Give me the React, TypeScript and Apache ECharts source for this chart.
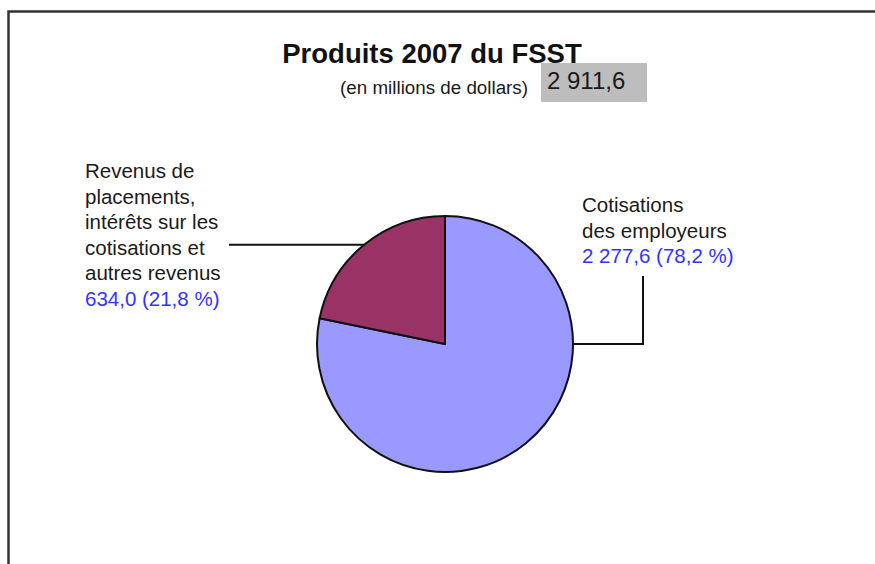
import React, { useEffect, useRef } from "react";
import * as echarts from "echarts";

const categories = [
  "Cotisations\ndes employeurs",
  "Revenus de\nplacements,\nintérêts sur les\ncotisations et\nautres revenus",
];
const values = [2277.6, 634.0];
const colors = ["#9999FF", "#993366"];
const titleText = "Produits 2007 du FSST";
const subtitleText = "(en millions de dollars)";

const FONT = "'Liberation Sans', Arial, Helvetica, sans-serif";

function fr(v: number): string {
  const s = v.toFixed(1);
  const [i, d] = s.split(".");
  return i.replace(/\B(?=(\d{3})+(?!\d))/g, " ") + "," + d;
}

export default function App() {
  const ref = useRef<HTMLDivElement>(null);
  useEffect(() => {
    document.body.style.margin = "0";
    if (!ref.current) return;
    const chart = echarts.init(ref.current, undefined, { renderer: "svg" });
    const total = values.reduce((a, b) => a + b, 0);
    const cx = 445;
    const cy = 344;
    const r = 128;
    const data = categories.map((name, i) => ({
      name,
      value: values[i],
      itemStyle: { color: colors[i] },
    }));
    chart.setOption({
      animation: false,
      backgroundColor: "#ffffff",
      graphic: [
        {
          type: "rect",
          shape: { x: 8.5, y: 11.5, width: 1000, height: 1000 },
          style: { fill: "none", stroke: "#333333", lineWidth: 2.5 },
          silent: true,
        },
        {
          type: "text",
          x: 432,
          y: 53,
          style: {
            text: titleText,
            fontFamily: FONT,
            fontWeight: "bold",
            fontSize: 27.5,
            fill: "#111111",
            align: "center",
            verticalAlign: "middle",
          },
        },
        {
          type: "text",
          x: 528,
          y: 87,
          style: {
            text: subtitleText,
            fontFamily: FONT,
            fontSize: 18.8,
            fill: "#1a1a1a",
            align: "right",
            verticalAlign: "middle",
          },
        },
        {
          type: "rect",
          shape: { x: 541, y: 63, width: 106, height: 39 },
          style: { fill: "#BDBDBD" },
        },
        {
          type: "text",
          x: 547,
          y: 80,
          style: {
            text: fr(total),
            fontFamily: FONT,
            fontSize: 24,
            fill: "#1a1a1a",
            align: "left",
            verticalAlign: "middle",
          },
        },
      ],
      series: [
        {
          type: "pie",
          center: [cx, cy],
          radius: [0, r],
          startAngle: 90,
          clockwise: true,
          data,
          itemStyle: { borderColor: "#111111", borderWidth: 2 },
          emphasis: { disabled: true },
          label: {
            show: true,
            position: "outside",
            formatter: (p: any) => {
              const lines = String(p.name)
                .split("\n")
                .map((l: string) => "{n|" + l + "}");
              const pct = (p.value / total) * 100;
              lines.push("{v|" + fr(p.value) + " (" + fr(pct) + " %)}");
              return lines.join("\n");
            },
            rich: {
              n: { fontFamily: FONT, fontSize: 20.5, lineHeight: 25.5, color: "#1a1a1a" },
              v: { fontFamily: FONT, fontSize: 20.5, lineHeight: 25.5, color: "#3333FF" },
            },
          },
          labelLine: {
            show: true,
            lineStyle: { color: "#111111", width: 2 },
          },
          labelLayout: (params: any) => {
            if (params.dataIndex === 1) {
              const frac0 = values[0] / total;
              const mid = (90 - 360 * (frac0 + values[1] / total / 2)) * (Math.PI / 180);
              const sx = cx + r * Math.cos(mid);
              const sy = cy - r * Math.sin(mid);
              return {
                x: 85,
                y: 158,
                align: "left",
                verticalAlign: "top",
                labelLinePoints: [
                  [sx, sy],
                  [229, sy],
                  [229, sy],
                ],
              };
            }
            return {
              x: 582,
              y: 192,
              align: "left",
              verticalAlign: "top",
              labelLinePoints: [
                [cx + r, cy],
                [643, cy],
                [643, 276],
              ],
            };
          },
        },
      ],
    });
    return () => chart.dispose();
  }, []);
  return <div ref={ref} style={{ width: 875, height: 564 }} />;
}
